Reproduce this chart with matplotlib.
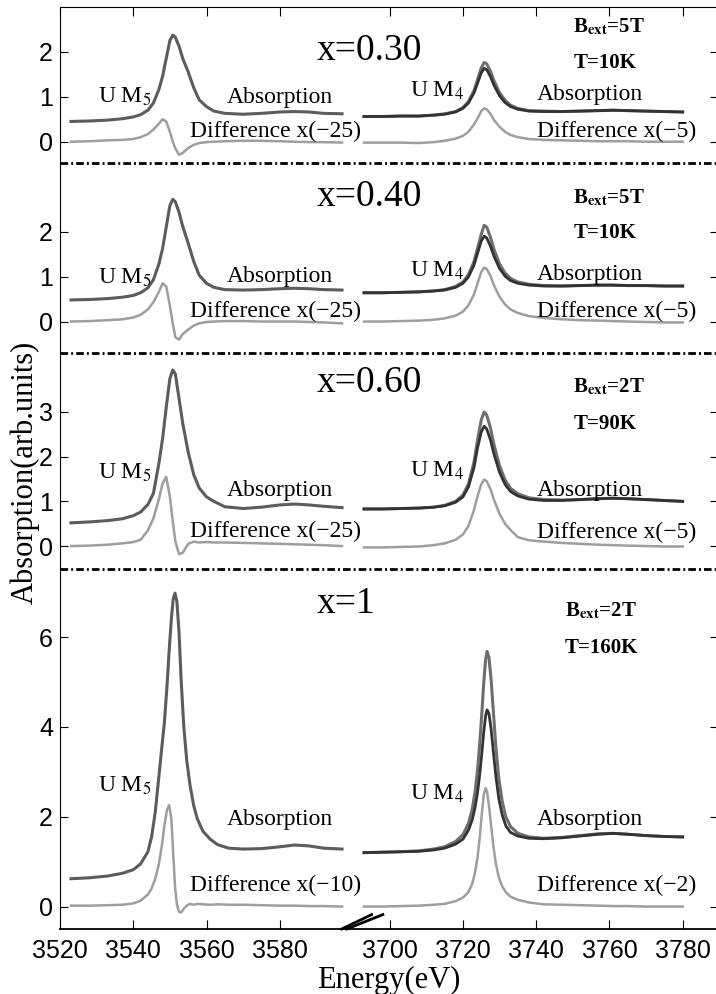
import matplotlib.pyplot as plt

plt.rcParams['mathtext.fontset'] = 'stix'
plt.rcParams['lines.scale_dashes'] = False
SERIF = 'Liberation Serif'
SANS = 'Liberation Sans'

# energy grids (eV) of the two edges
e_m5 = [3523, 3528, 3533, 3537, 3540, 3542, 3544, 3545.5, 3547, 3548, 3549, 3550,
        3550.8, 3551.5, 3552.5, 3553.5, 3555, 3556.5, 3558, 3560, 3562, 3565, 3570,
        3575, 3580, 3584, 3588, 3592, 3597]
e_m4 = [3693, 3698, 3703, 3708, 3712, 3715, 3718, 3720, 3721.5, 3723, 3724, 3725,
        3725.8, 3726.5, 3727.5, 3728.5, 3730, 3731.5, 3733, 3735, 3738, 3742, 3747,
        3752, 3757, 3761, 3765, 3770, 3775, 3780]
# finer grids for the sharp x=1 spectra
e_m5_x1 = [3523, 3528, 3533, 3537, 3540, 3542, 3544, 3545, 3546, 3547, 3547.8, 3548.5,
           3549.2, 3549.8, 3550.4, 3550.9, 3551.4, 3551.9, 3552.5, 3553.1, 3553.8, 3554.6,
           3555.5, 3556.5, 3557.5, 3559, 3561, 3563, 3566, 3570, 3575, 3580, 3584, 3588,
           3592, 3597]
e_m4_x1 = [3693, 3698, 3703, 3708, 3712, 3715, 3718, 3720, 3721.5, 3722.5, 3723.3, 3724,
           3724.6, 3725.2, 3725.7, 3726.2, 3726.6, 3727.1, 3727.7, 3728.3, 3729, 3729.8,
           3730.7, 3731.7, 3733, 3735, 3738, 3742, 3747, 3752, 3757, 3761, 3765, 3770,
           3775, 3780]

# x=0.30
m5_abs_030 = [0.45, 0.46, 0.48, 0.51, 0.55, 0.60, 0.70, 0.86, 1.16, 1.45, 1.85, 2.25, 2.37,
              2.32, 2.12, 1.85, 1.55, 1.20, 0.93, 0.78, 0.68, 0.63, 0.61, 0.63, 0.66, 0.67,
              0.66, 0.63, 0.62]
m5_diff_030 = [0.0, 0.01, 0.03, 0.04, 0.06, 0.10, 0.17, 0.27, 0.40, 0.50, 0.45, 0.22, 0.0,
               -0.15, -0.29, -0.25, -0.14, -0.07, -0.03, -0.01, 0.0, 0.01, 0.02, 0.02, 0.01,
               0.0, -0.01, -0.01, -0.02]
m4_up_030 = [0.56, 0.56, 0.57, 0.57, 0.59, 0.62, 0.67, 0.76, 0.89, 1.13, 1.38, 1.64, 1.76,
             1.73, 1.57, 1.35, 1.09, 0.92, 0.81, 0.74, 0.69, 0.68, 0.67, 0.68, 0.69, 0.70,
             0.69, 0.68, 0.67, 0.66]
m4_dn_030 = [0.56, 0.56, 0.57, 0.57, 0.59, 0.61, 0.66, 0.74, 0.86, 1.08, 1.30, 1.53, 1.63,
             1.60, 1.45, 1.25, 1.02, 0.87, 0.78, 0.72, 0.68, 0.67, 0.67, 0.68, 0.69, 0.70,
             0.69, 0.68, 0.67, 0.66]
m4_diff_030 = [-0.02, -0.02, -0.02, -0.03, -0.01, 0.02, 0.07, 0.13, 0.22, 0.38, 0.52, 0.68,
               0.74, 0.72, 0.62, 0.48, 0.33, 0.22, 0.15, 0.10, 0.06, 0.04, 0.03, 0.02, 0.01,
               0.01, 0.01, 0.0, 0.0, 0.0]

# x=0.40
m5_abs_040 = [0.48, 0.49, 0.51, 0.54, 0.58, 0.64, 0.75, 0.93, 1.28, 1.62, 2.10, 2.58, 2.72,
              2.66, 2.43, 2.12, 1.74, 1.34, 1.03, 0.85, 0.76, 0.71, 0.70, 0.71, 0.73, 0.74,
              0.73, 0.71, 0.70]
m5_diff_040 = [0.0, 0.01, 0.03, 0.05, 0.09, 0.15, 0.27, 0.43, 0.66, 0.85, 0.78, 0.35, -0.05,
               -0.35, -0.40, -0.28, -0.18, -0.09, -0.04, -0.01, 0.0, 0.01, 0.01, 0.0, 0.0,
               0.0, -0.01, -0.02, -0.04]
m4_up_040 = [0.64, 0.64, 0.65, 0.66, 0.68, 0.71, 0.78, 0.88, 1.04, 1.33, 1.63, 1.94, 2.14,
             2.10, 1.88, 1.60, 1.28, 1.08, 0.96, 0.88, 0.83, 0.80, 0.79, 0.80, 0.81, 0.81,
             0.80, 0.80, 0.79, 0.79]
m4_dn_040 = [0.64, 0.64, 0.65, 0.66, 0.68, 0.70, 0.76, 0.85, 0.99, 1.25, 1.52, 1.79, 1.90,
             1.86, 1.68, 1.45, 1.18, 1.01, 0.91, 0.85, 0.81, 0.79, 0.79, 0.80, 0.81, 0.81,
             0.80, 0.80, 0.79, 0.79]
m4_diff_040 = [0.0, 0.0, 0.01, 0.02, 0.04, 0.07, 0.13, 0.22, 0.36, 0.60, 0.85, 1.10, 1.20,
               1.17, 1.02, 0.80, 0.55, 0.38, 0.27, 0.19, 0.12, 0.08, 0.05, 0.03, 0.02, 0.01,
               0.0, -0.01, -0.02, -0.02]

# x=0.60
m5_abs_060 = [0.52, 0.54, 0.57, 0.61, 0.68, 0.76, 0.93, 1.18, 1.85, 2.40, 3.10, 3.75, 3.94,
              3.85, 3.30, 2.75, 2.10, 1.60, 1.30, 1.10, 1.00, 0.88, 0.84, 0.87, 0.92, 0.94,
              0.92, 0.89, 0.86]
m5_diff_060 = [0.0, 0.01, 0.03, 0.06, 0.09, 0.14, 0.35, 0.62, 1.05, 1.40, 1.55, 1.10, 0.55,
               0.10, -0.18, -0.15, 0.05, 0.10, 0.08, 0.09, 0.08, 0.08, 0.07, 0.06, 0.05,
               0.04, 0.03, 0.02, 0.0]
m4_up_060 = [0.83, 0.83, 0.84, 0.85, 0.87, 0.91, 1.00, 1.14, 1.39, 1.87, 2.38, 2.82, 3.00,
             2.93, 2.65, 2.26, 1.80, 1.48, 1.29, 1.17, 1.08, 1.04, 1.03, 1.04, 1.06, 1.07,
             1.06, 1.04, 1.02, 1.00]
m4_dn_060 = [0.83, 0.83, 0.84, 0.85, 0.87, 0.90, 0.98, 1.10, 1.32, 1.75, 2.20, 2.55, 2.68,
             2.62, 2.38, 2.05, 1.65, 1.38, 1.22, 1.12, 1.05, 1.02, 1.02, 1.04, 1.06, 1.07,
             1.06, 1.04, 1.02, 1.00]
m4_diff_060 = [-0.03, -0.03, -0.02, -0.01, 0.02, 0.06, 0.14, 0.26, 0.45, 0.80, 1.12, 1.38,
               1.49, 1.45, 1.28, 1.03, 0.72, 0.50, 0.36, 0.20, 0.13, 0.10, 0.07, 0.05, 0.03,
               0.02, 0.01, 0.0, -0.01, -0.01]

# x=1 (on the finer grids)
m5_abs_100 = [0.62, 0.64, 0.68, 0.74, 0.82, 0.95, 1.22, 1.55, 2.10, 2.90, 3.55, 4.10, 4.90,
              5.70, 6.40, 6.85, 6.98, 6.80, 6.10, 5.00, 4.00, 3.25, 2.70, 2.25, 1.95, 1.68,
              1.50, 1.38, 1.30, 1.28, 1.29, 1.33, 1.37, 1.35, 1.30, 1.28]
m5_diff_100 = [0.02, 0.02, 0.03, 0.04, 0.07, 0.13, 0.27, 0.40, 0.62, 0.95, 1.35, 1.80, 2.15,
               2.26, 1.95, 1.20, 0.45, 0.05, -0.12, -0.13, -0.05, 0.02, 0.06, 0.04, 0.06,
               0.05, 0.04, 0.05, 0.04, 0.04, 0.03, 0.02, 0.02, 0.01, 0.01, 0.0]
m4_up_100 = [1.20, 1.21, 1.22, 1.24, 1.28, 1.33, 1.45, 1.60, 1.85, 2.15, 2.55, 3.05, 3.65,
             4.35, 5.00, 5.50, 5.68, 5.55, 5.05, 4.35, 3.55, 2.85, 2.35, 2.00, 1.78, 1.63,
             1.55, 1.52, 1.54, 1.58, 1.62, 1.63, 1.61, 1.58, 1.56, 1.55]
m4_dn_100 = [1.20, 1.21, 1.22, 1.23, 1.26, 1.30, 1.39, 1.50, 1.70, 1.92, 2.20, 2.55, 2.95,
             3.45, 3.90, 4.25, 4.38, 4.30, 3.95, 3.45, 2.90, 2.40, 2.05, 1.80, 1.65, 1.57,
             1.52, 1.51, 1.53, 1.57, 1.61, 1.63, 1.61, 1.58, 1.56, 1.55]
m4_diff_100 = [0.0, 0.0, 0.01, 0.02, 0.04, 0.06, 0.12, 0.20, 0.32, 0.50, 0.75, 1.10, 1.55,
               2.10, 2.50, 2.64, 2.55, 2.25, 1.80, 1.35, 0.95, 0.65, 0.45, 0.32, 0.22, 0.15,
               0.09, 0.05, 0.04, 0.03, 0.02, 0.01, 0.01, 0.0, 0.0, 0.0]

compositions = ['x=0.30', 'x=0.40', 'x=0.60', 'x=1']
fields = ['5T', '5T', '2T', '2T']
temperatures = ['10K', '10K', '90K', '160K']
m5_factors = ['\u221225', '\u221225', '\u221225', '\u221210']
m4_factors = ['\u22125', '\u22125', '\u22125', '\u22122']
y_ticks = [[0, 1, 2], [0, 1, 2], [0, 1, 2, 3], [0, 2, 4, 6]]
x_tick_energies = [3520, 3540, 3560, 3580, 3700, 3720, 3740, 3760, 3780]

SHIFT = 90  # eV cut out of the axis between the two edges


def to_axis(energies):
    return [e - SHIFT if e > 3650 else e for e in energies]


panels = [
    (e_m5, e_m4, m5_abs_030, m5_diff_030, m4_up_030, m4_dn_030, m4_diff_030),
    (e_m5, e_m4, m5_abs_040, m5_diff_040, m4_up_040, m4_dn_040, m4_diff_040),
    (e_m5, e_m4, m5_abs_060, m5_diff_060, m4_up_060, m4_dn_060, m4_diff_060),
    (e_m5_x1, e_m4_x1, m5_abs_100, m5_diff_100, m4_up_100, m4_dn_100, m4_diff_100),
]

# layout (pixels of the 716x994 figure)
W, H = 716.0, 994.0
left_px, right_px = 60.0, 717.5
edges_px = [6.7, 163.3, 353.0, 569.3, 929.0]
ylims = [(-0.48, 3.0), (-0.70, 3.52), (-0.52, 4.32), (-0.50, 7.51)]
# text baselines per panel: composition, U M5, Abs5, Diff5, U M4, Abs4, Diff4, B, T
text_y = [
    (1.82, 0.86, 0.86, 0.10, 1.00, 0.93, 0.11, 2.44, 1.63),
    (2.57, 0.85, 0.89, 0.11, 1.00, 0.93, 0.11, 2.63, 1.85),
    (3.45, 1.51, 1.12, 0.21, 1.55, 1.12, 0.17, 3.45, 2.63),
    (6.53, 2.56, 1.82, 0.35, 2.38, 1.82, 0.35, 6.46, 5.64),
]

c_abs = '#5c5c5c'
c_up = '#6e6e6e'
c_dn = '#333333'
c_diff = '#9e9e9e'
sep_style = (0, (5.5, 2.2, 1.4, 2.2))

fig = plt.figure(figsize=(W / 100, H / 100), dpi=100)
xlim = (3520, 3789.5 - SHIFT)
xt = to_axis(x_tick_energies)

axes = []
for i in range(4):
    top, bot = edges_px[i], edges_px[i + 1]
    ax = fig.add_axes([left_px / W, 1 - bot / H, (right_px - left_px) / W, (bot - top) / H])
    axes.append(ax)
    e5, e4, m5_abs, m5_diff, m4_up, m4_dn, m4_diff = panels[i]

    ax.plot(to_axis(e5), m5_diff, color=c_diff, lw=1.8)
    ax.plot(to_axis(e5), m5_abs, color=c_abs, lw=2.2)
    ax.plot(to_axis(e4), m4_diff, color=c_diff, lw=1.8)
    ax.plot(to_axis(e4), m4_up, color=c_up, lw=2.2)
    ax.plot(to_axis(e4), m4_dn, color=c_dn, lw=2.0)

    ax.set_xlim(*xlim)
    ax.set_ylim(*ylims[i])
    ax.set_xticks(xt)
    ax.set_yticks(y_ticks[i])
    ax.tick_params(axis='y', direction='in', left=True, right=True, length=6, width=0.8,
                   labelsize=18, pad=5)
    ax.tick_params(axis='x', direction='in', top=(i == 0), bottom=(i == 3), length=6.5,
                   width=0.8, labelsize=18, pad=7, labelbottom=(i == 3))
    for lab in ax.get_yticklabels() + ax.get_xticklabels():
        lab.set_fontfamily(SANS)
    ax.spines['left'].set_linewidth(0.8)
    ax.spines['right'].set_linewidth(0.8)
    ax.spines['top'].set_linewidth(0.8)
    if i > 0:
        ax.spines['top'].set_visible(False)
        ax.plot([0, 1], [1, 1], color='black', lw=2.0, ls=sep_style,
                transform=ax.transAxes, clip_on=False)
    if i < 3:
        ax.spines['bottom'].set_visible(False)
    else:
        ax.spines['bottom'].set_linewidth(1.3)
    ax.patch.set_alpha(0)

    ty = text_y[i]
    fs = 17
    ax.text(3590.1, ty[0], compositions[i], family=SERIF, fontsize=27)
    ax.text(3530.4, ty[1], r'U M$_5$', family=SERIF, fontsize=fs)
    ax.text(3565.6, ty[2], 'Absorption', family=SERIF, fontsize=fs)
    ax.text(3555.5, ty[3], 'Difference x(' + m5_factors[i] + ')', family=SERIF, fontsize=fs)
    ax.text(3615.5, ty[4], r'U M$_4$', family=SERIF, fontsize=fs)
    ax.text(3650.1, ty[5], 'Absorption', family=SERIF, fontsize=fs)
    ax.text(3650.1, ty[6], 'Difference x(' + m4_factors[i] + ')', family=SERIF, fontsize=fs)
    bx = 3660.1 if i < 3 else 3657.8
    ax.text(bx, ty[7], r'B$_{\mathbf{ext}}$=' + fields[i], family=SERIF, fontsize=15,
            fontweight='bold')
    ax.text(bx, ty[8], 'T=' + temperatures[i], family=SERIF, fontsize=15, fontweight='bold')

bottom = axes[3]
bottom.set_xticklabels([str(e) for e in x_tick_energies])
for lab in bottom.get_xticklabels():
    lab.set_fontfamily(SANS)

# axis-break marks on the energy axis
for x0, x1 in [(0.4284, 0.474), (0.436, 0.491)]:
    bottom.plot([x0, x1], [0.0, 0.04], color='black', lw=2.0, transform=bottom.transAxes,
                clip_on=False)

fig.text((left_px + right_px) / 2 / W, 1 - 980 / H, 'Energy(eV)', family=SERIF,
         fontsize=22, ha='center', va='center')
fig.text(25 / W, 1 - 472 / H, 'Absorption(arb.units)', family=SERIF, fontsize=22,
         rotation=90, ha='center', va='center')

fig.savefig('out.png', dpi=100)
